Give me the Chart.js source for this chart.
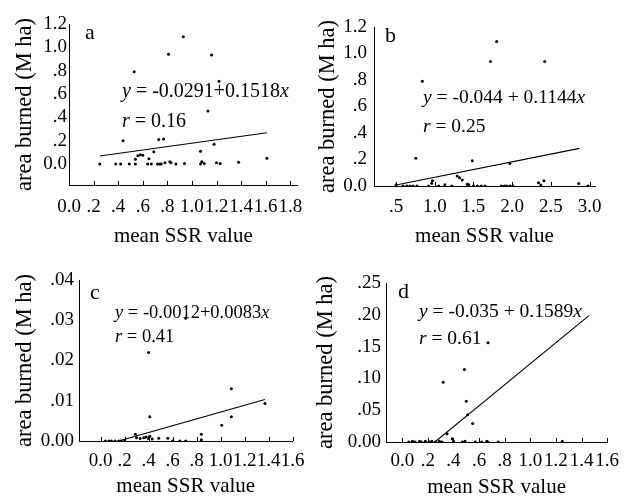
<!DOCTYPE html>
<html>
<head>
<meta charset="utf-8">
<script src="https://cdn.jsdelivr.net/npm/chart.js@4.4.1/dist/chart.umd.min.js"></script>
<style>
body{margin:0;background:#fff;}
#quadro{position:relative;width:627px;height:498px;background:#fff;}
canvas{position:absolute;}
</style>
</head>
<body>
<div id="quadro">
<canvas id="ga" width="313" height="249" style="left:0;top:0"></canvas>
<canvas id="gb" width="314" height="249" style="left:313px;top:0"></canvas>
<canvas id="gc" width="313" height="249" style="left:0;top:249px"></canvas>
<canvas id="gd" width="314" height="249" style="left:313px;top:249px"></canvas>
</div>
<script>
// painel a
const aX = [0.25,0.38,0.42,0.44,0.49,0.54,0.54,0.56,0.58,0.60,0.64,0.65,0.67,0.69,0.72,0.74,0.75,0.73,0.77,0.78,0.82,0.83,0.87,0.94,1.07,1.08,1.07,1.10,1.18,1.20,1.23,1.38,1.61,0.53,0.81,0.93,1.16,1.22,1.13];
const aY = [0,0,0,0.20,0,0,0.04,0.07,0.08,0.075,0,0.045,0,0.105,0,0,0,0.21,0.215,0.01,0.02,0.01,0,0.005,0.11,0.02,0,0.005,0.17,0.01,0.005,0.015,0.05,0.79,0.94,1.09,0.935,0.71,0.455];
const aRetaX = [0.25, 1.61];
const aRetaY = [0.069, 0.268];
const aTicksX = [0,0.2,0.4,0.6,0.8,1.0,1.2,1.4,1.6,1.8];
const aRotX = ['0.0','.2','.4','.6','.8','1.0','1.2','1.4','1.6','1.8'];
const aTicksY = [0,0.2,0.4,0.6,0.8,1.0,1.2];
const aRotY = ['0.0','.2','.4','.6','.8','1.0','1.2'];

// painel b
const bX = [0.84,0.755,1.72,1.80,2.42,1.485,1.97,0.5,0.59,0.64,0.68,0.72,0.77,0.92,0.96,0.97,1.05,1.13,1.22,1.29,1.32,1.355,1.42,1.44,1.50,1.55,1.60,1.65,1.86,1.90,1.93,1.97,2.01,2.34,2.37,2.41,2.86,2.98];
const bY = [0.79,0.21,0.94,1.09,0.94,0.19,0.17,0.01,0,0,0,0,0,0,0.02,0.04,0,0.01,0,0.075,0.063,0.045,0.013,0.01,0,0,0,0,0,0,0,0,0,0.025,0.008,0.04,0.018,0];
const bRetaX = [0.5, 2.87];
const bRetaY = [0.008, 0.284];
const bTicksX = [0.5,1.0,1.5,2.0,2.5,3.0];
const bRotX = ['.5','1.0','1.5','2.0','2.5','3.0'];
const bTicksY = [0,0.2,0.4,0.6,0.8,1.0,1.2];
const bRotY = ['0.0','.2','.4','.6','.8','1.0','1.2'];

// painel c
const cX = [0.40,0.71,0.41,1.09,1.09,1.01,1.37,0.84,0.84,0.04,0.07,0.09,0.12,0.15,0.17,0.20,0.29,0.30,0.33,0.36,0.38,0.40,0.41,0.43,0.485,0.56,0.60,0.66,0.71];
const cY = [0.022,0.0305,0.006,0.013,0.006,0.0039,0.0093,0.0017,0.0003,0,0,0,0,0,0,0,0.0017,0.0008,0.0006,0.0008,0.001,0.0006,0.0012,0.0005,0.0007,0.0007,0,0,0];
const cRetaX = [0.15, 1.37];
const cRetaY = [0.0, 0.0103];
const cTicksX = [0,0.2,0.4,0.6,0.8,1.0,1.2,1.4,1.6];
const cRotX = ['0.0','.2','.4','.6','.8','1.0','1.2','1.4','1.6'];
const cTicksY = [0,0.01,0.02,0.03,0.04];
const cRotY = ['0.00','.01','.02','.03','.04'];

// painel d
const dX = [0.32,0.485,0.50,0.67,0.55,0.51,0.35,0.39,0.05,0.08,0.10,0.135,0.15,0.18,0.21,0.23,0.26,0.29,0.31,0.40,0.47,0.49,0.57,0.62,0.66,0.67,0.75,1.25];
const dY = [0.094,0.114,0.064,0.156,0.029,0.043,0.013,0.005,0,0.001,0,0.001,0,0.001,0,0.001,0,0.001,0,0.001,0,0.001,0,0,0.001,0,0,0.001];
const dRetaX = [0.255, 1.46];
const dRetaY = [0.0, 0.199];
const dTicksX = [0,0.2,0.4,0.6,0.8,1.0,1.2,1.4,1.6];
const dRotX = ['0.0','.2','.4','.6','.8','1.0','1.2','1.4','1.6'];
const dTicksY = [0,0.05,0.10,0.15,0.20,0.25];
const dRotY = ['0.00','.05','.10','.15','.20','.25'];

const fonte = "'Liberation Serif', 'Times New Roman', serif";
const tamTick = 19;

// textos de cada painel (letra, equacao, r)
const anotacoes = {
  ga: {letra: 'a', lx: 85, ly: 33, tam: 20, linhas: [
    {x: 122, y: 92, partes: [['y', true], [' = -0.0291+0.1518', false], ['x', true]]},
    {x: 122, y: 122, partes: [['r', true], [' = 0.16', false]]}]},
  gb: {letra: 'b', lx: 72, ly: 36, tam: 19.5, linhas: [
    {x: 110, y: 98, partes: [['y', true], [' = -0.044 + 0.1144', false], ['x', true]]},
    {x: 110, y: 127, partes: [['r', true], [' = 0.25', false]]}]},
  gc: {letra: 'c', lx: 90, ly: 44, tam: 18.5, linhas: [
    {x: 115, y: 64, partes: [['y', true], [' = -0.0012+0.0083', false], ['x', true]]},
    {x: 115, y: 88, partes: [['r', true], [' = 0.41', false]]}]},
  gd: {letra: 'd', lx: 85, ly: 43, tam: 19.5, linhas: [
    {x: 106, y: 63, partes: [['y', true], [' = -0.035 + 0.1589', false], ['x', true]]},
    {x: 106, y: 90, partes: [['r', true], [' = 0.61', false]]}]}
};

const textos = {
  id: 'textos',
  afterDraw: (chart) => {
    const op = anotacoes[chart.canvas.id];
    const ctx = chart.ctx;
    ctx.save();
    ctx.fillStyle = '#000';
    ctx.textBaseline = 'middle';
    ctx.textAlign = 'left';
    ctx.font = '22px ' + fonte;
    ctx.fillText(op.letra, op.lx, op.ly);
    op.linhas.forEach(l => {
      let x = l.x;
      l.partes.forEach(p => {
        ctx.font = (p[1] ? 'italic ' : '') + op.tam + 'px ' + fonte;
        ctx.fillText(p[0], x, l.y);
        x += ctx.measureText(p[0]).width;
      });
    });
    ctx.restore();
  }
};

// marquinhas do eixo x viradas para dentro
const marcas = {
  id: 'marcas',
  afterDraw: (chart) => {
    const eixo = chart.scales.x;
    const ctx = chart.ctx;
    ctx.save();
    ctx.strokeStyle = '#000';
    ctx.lineWidth = 1;
    eixo.ticks.forEach(t => {
      const px = Math.round(eixo.getPixelForValue(t.value)) + 0.5;
      ctx.beginPath();
      ctx.moveTo(px, eixo.top);
      ctx.lineTo(px, eixo.top - 4);
      ctx.stroke();
    });
    ctx.restore();
  }
};

const criaGrafico = (id, p) => {
  const pontos = p.x.map((v, i) => ({x: v, y: p.y[i]}));
  const reta = p.retaX.map((v, i) => ({x: v, y: p.retaY[i]}));
  return new Chart(document.getElementById(id), {
    type: 'scatter',
    data: {
      datasets: [
        {data: pontos, backgroundColor: '#000', borderColor: '#000', pointRadius: 1.5, pointBorderWidth: 0},
        {data: reta, showLine: true, borderColor: '#000', borderWidth: 1.1, pointRadius: 0, fill: false}
      ]
    },
    options: {
      responsive: false,
      animation: false,
      devicePixelRatio: 1,
      layout: {padding: p.pad},
      plugins: {legend: {display: false}, tooltip: {enabled: false}},
      scales: {
        x: {
          type: 'linear',
          min: p.xMin, max: p.xMax,
          grid: {display: false, drawTicks: false},
          border: {display: true, color: '#000', width: 1},
          afterBuildTicks: (eixo) => { eixo.ticks = p.ticksX.map(v => ({value: v})) },
          afterFit: (eixo) => { eixo.height = p.altX },
          ticks: {
            color: '#000', font: {family: fonte, size: tamTick}, padding: p.padTickX,
            maxRotation: 0, autoSkip: false,
            callback: (v) => p.rotX[p.ticksX.indexOf(v)]
          },
          title: {display: true, text: 'mean SSR value', color: '#000',
            font: {family: fonte, size: 21, lineHeight: 1}, padding: {top: 0, bottom: p.padTitX}}
        },
        y: {
          type: 'linear',
          min: p.yMin, max: p.yMax,
          grid: {display: false, drawTicks: false},
          border: {display: true, color: '#000', width: 1},
          afterBuildTicks: (eixo) => { eixo.ticks = p.ticksY.map(v => ({value: v})) },
          afterFit: (eixo) => { eixo.width = p.largY },
          ticks: {
            color: '#000', font: {family: fonte, size: tamTick}, padding: p.padTickY,
            autoSkip: false,
            callback: (v) => p.rotY[p.ticksY.indexOf(v)]
          },
          title: {display: true, text: 'area burned (M ha)', color: '#000',
            font: {family: fonte, size: 22.5, lineHeight: 1}, padding: {top: p.padTitY, bottom: 0}}
        }
      }
    },
    plugins: [marcas, textos]
  });
};

criaGrafico('ga', {x: aX, y: aY, retaX: aRetaX, retaY: aRetaY, ticksX: aTicksX, rotX: aRotX, ticksY: aTicksY, rotY: aRotY,
  xMin: 0, xMax: 1.86, yMin: -0.18, yMax: 1.2,
  pad: {left: 0, top: 24, right: 11, bottom: 0}, altX: 64, largY: 69,
  padTickX: 10.5, padTitX: 2, padTickY: 2, padTitY: 14});

criaGrafico('gb', {x: bX, y: bY, retaX: bRetaX, retaY: bRetaY, ticksX: bTicksX, rotX: bRotX, ticksY: bTicksY, rotY: bRotY,
  xMin: 0.215, xMax: 3.07, yMin: 0, yMax: 1.2,
  pad: {left: 0, top: 27, right: 32, bottom: 0}, altX: 63, largY: 61,
  padTickX: 9.3, padTitX: 2, padTickY: 7, padTitY: 4});

criaGrafico('gc', {x: cX, y: cY, retaX: cRetaX, retaY: cRetaY, ticksX: cTicksX, rotX: cRotX, ticksY: cTicksY, rotY: cRotY,
  xMin: -0.18, xMax: 1.6, yMin: 0, yMax: 0.04,
  pad: {left: 0, top: 31, right: 10, bottom: 0}, altX: 57, largY: 79,
  padTickX: 8.6, padTitX: 1, padTickY: 5, padTitY: 14});

criaGrafico('gd', {x: dX, y: dY, retaX: dRetaX, retaY: dRetaY, ticksX: dTicksX, rotX: dRotX, ticksY: dTicksY, rotY: dRotY,
  xMin: -0.127, xMax: 1.6, yMin: 0, yMax: 0.25,
  pad: {left: 0, top: 34, right: 19, bottom: 0}, altX: 56, largY: 73,
  padTickX: 8, padTitX: 0, padTickY: 5, padTitY: 2});
</script>
</body>
</html>
